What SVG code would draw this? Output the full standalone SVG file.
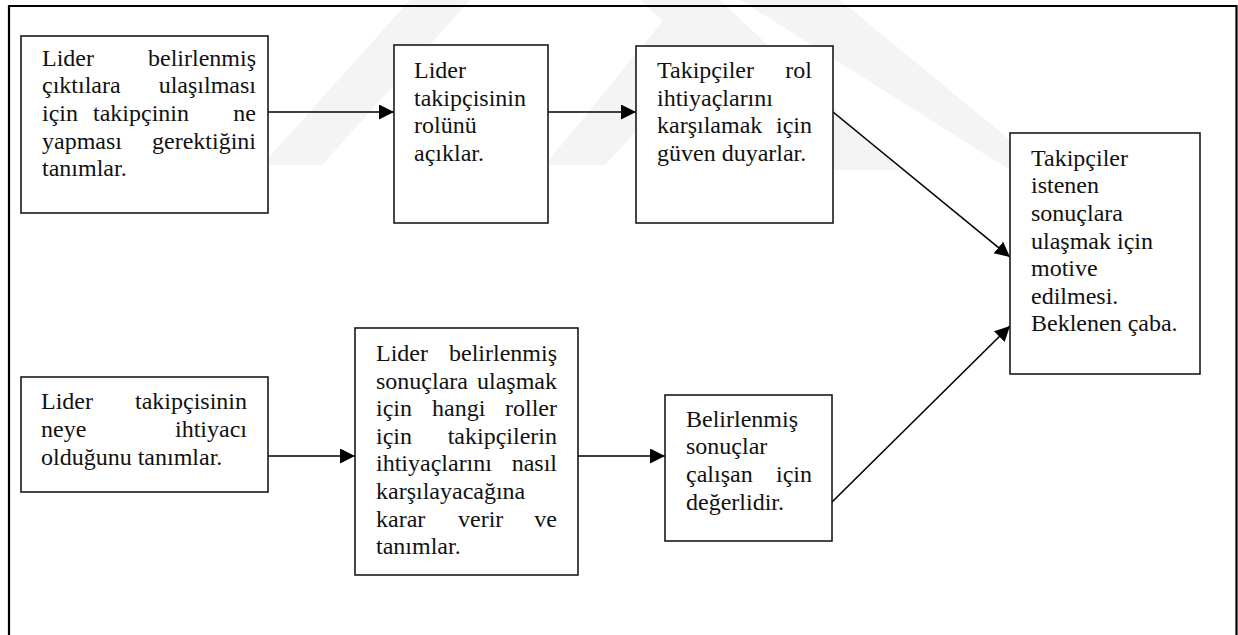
<svg xmlns="http://www.w3.org/2000/svg" width="1238" height="635" viewBox="0 0 1238 635">
  <style>
    .frame { fill: none; stroke: #000; stroke-width: 2.2; }
    .box { fill: #fff; stroke: #1a1a1a; stroke-width: 1.6; }
    .link { fill: none; stroke: #000; stroke-width: 1.6; }
    .t { font-family: 'Liberation Serif', 'DejaVu Serif', 'Times New Roman', Times, serif; font-size: 24px; fill: #111; }
    .end { text-anchor: end; }
    .mark { fill: #f4f4f4; }
  </style>
  <defs>
    <marker id="head" markerWidth="16" markerHeight="16" refX="15" refY="7.5" orient="auto" markerUnits="userSpaceOnUse">
      <path d="M0,0 L15,7.5 L0,15 Z" fill="#000"/>
    </marker>
  </defs>

  <rect width="1238" height="635" fill="#fff"/>

  <!-- faint background emblem -->
  <g id="emblem">
    <polygon class="mark" points="262,165 322,165 470,0 410,0"/>
    <polygon class="mark" points="545,165 605,165 740,20 700,0 680,0"/>
    <polygon class="mark" points="640,0 720,0 900,170 820,170"/>
    <polygon class="mark" points="740,0 840,0 1010,140 1010,170"/>
  </g>

  <!-- outer frame (open at the bottom edge of the view) -->
  <path class="frame" d="M9,640 L9,6 L1236.5,6 L1236.5,640"/>

  <g id="connectors">
    <line class="link" x1="268" y1="112" x2="394" y2="112" marker-end="url(#head)"/>
    <line class="link" x1="548" y1="112" x2="636" y2="112" marker-end="url(#head)"/>
    <line class="link" x1="833" y1="112" x2="1010" y2="257" marker-end="url(#head)"/>
    <line class="link" x1="268" y1="456" x2="355" y2="456" marker-end="url(#head)"/>
    <line class="link" x1="578" y1="456" x2="665" y2="456" marker-end="url(#head)"/>
    <line class="link" x1="832" y1="502" x2="1010" y2="326" marker-end="url(#head)"/>
  </g>

  <g id="n1">
    <rect class="box" x="21" y="36" width="247" height="177"/>
    <text class="t" x="42" y="65.7">Lider</text>
    <text class="t end" x="256" y="65.7">belirlenmiş</text>
    <text class="t" x="42" y="93.3">çıktılara</text>
    <text class="t end" x="256" y="93.3">ulaşılması</text>
    <text class="t" x="42" y="120.9">için</text>
    <text class="t" x="93" y="120.9">takipçinin</text>
    <text class="t end" x="256" y="120.9">ne</text>
    <text class="t" x="42" y="148.5">yapması</text>
    <text class="t end" x="256" y="148.5">gerektiğini</text>
    <text class="t" x="42" y="176.1">tanımlar.</text>
  </g>

  <g id="n2">
    <rect class="box" x="394" y="45" width="154" height="178"/>
    <text class="t" x="414" y="78">Lider</text>
    <text class="t" x="414" y="105.6">takipçisinin</text>
    <text class="t" x="414" y="133.2">rolünü</text>
    <text class="t" x="414" y="160.8">açıklar.</text>
  </g>

  <g id="n3">
    <rect class="box" x="636" y="46" width="197" height="177"/>
    <text class="t" x="657" y="78">Takipçiler</text>
    <text class="t end" x="812" y="78">rol</text>
    <text class="t" x="657" y="105.6">ihtiyaçlarını</text>
    <text class="t" x="657" y="133.2">karşılamak</text>
    <text class="t end" x="812" y="133.2">için</text>
    <text class="t" x="657" y="160.8">güven duyarlar.</text>
  </g>

  <g id="n4">
    <rect class="box" x="1010" y="133" width="190" height="241"/>
    <text class="t" x="1031" y="165.7">Takipçiler</text>
    <text class="t" x="1031" y="193.3">istenen</text>
    <text class="t" x="1031" y="220.9">sonuçlara</text>
    <text class="t" x="1031" y="248.5">ulaşmak için</text>
    <text class="t" x="1031" y="276.1">motive</text>
    <text class="t" x="1031" y="303.7">edilmesi.</text>
    <text class="t" x="1031" y="331.3">Beklenen çaba.</text>
  </g>

  <g id="n5">
    <rect class="box" x="21" y="377" width="247" height="115"/>
    <text class="t" x="41" y="409.3">Lider</text>
    <text class="t end" x="247" y="409.3">takipçisinin</text>
    <text class="t" x="41" y="436.9">neye</text>
    <text class="t end" x="247" y="436.9">ihtiyacı</text>
    <text class="t" x="41" y="464.5">olduğunu tanımlar.</text>
  </g>

  <g id="n6">
    <rect class="box" x="355" y="328" width="223" height="247"/>
    <text class="t" x="376" y="361">Lider</text>
    <text class="t end" x="557" y="361">belirlenmiş</text>
    <text class="t" x="376" y="388.6">sonuçlara</text>
    <text class="t end" x="557" y="388.6">ulaşmak</text>
    <text class="t" x="376" y="416.2">için</text>
    <text class="t" x="432" y="416.2">hangi</text>
    <text class="t end" x="557" y="416.2">roller</text>
    <text class="t" x="376" y="443.8">için</text>
    <text class="t end" x="557" y="443.8">takipçilerin</text>
    <text class="t" x="376" y="471.4">ihtiyaçlarını</text>
    <text class="t end" x="557" y="471.4">nasıl</text>
    <text class="t" x="376" y="499">karşılayacağına</text>
    <text class="t" x="376" y="526.6">karar</text>
    <text class="t" x="458" y="526.6">verir</text>
    <text class="t end" x="557" y="526.6">ve</text>
    <text class="t" x="376" y="554.2">tanımlar.</text>
  </g>

  <g id="n7">
    <rect class="box" x="665" y="395" width="167" height="146"/>
    <text class="t" x="686" y="426.7">Belirlenmiş</text>
    <text class="t" x="686" y="454.3">sonuçlar</text>
    <text class="t" x="686" y="481.9">çalışan</text>
    <text class="t end" x="812" y="481.9">için</text>
    <text class="t" x="686" y="509.5">değerlidir.</text>
  </g>
</svg>
